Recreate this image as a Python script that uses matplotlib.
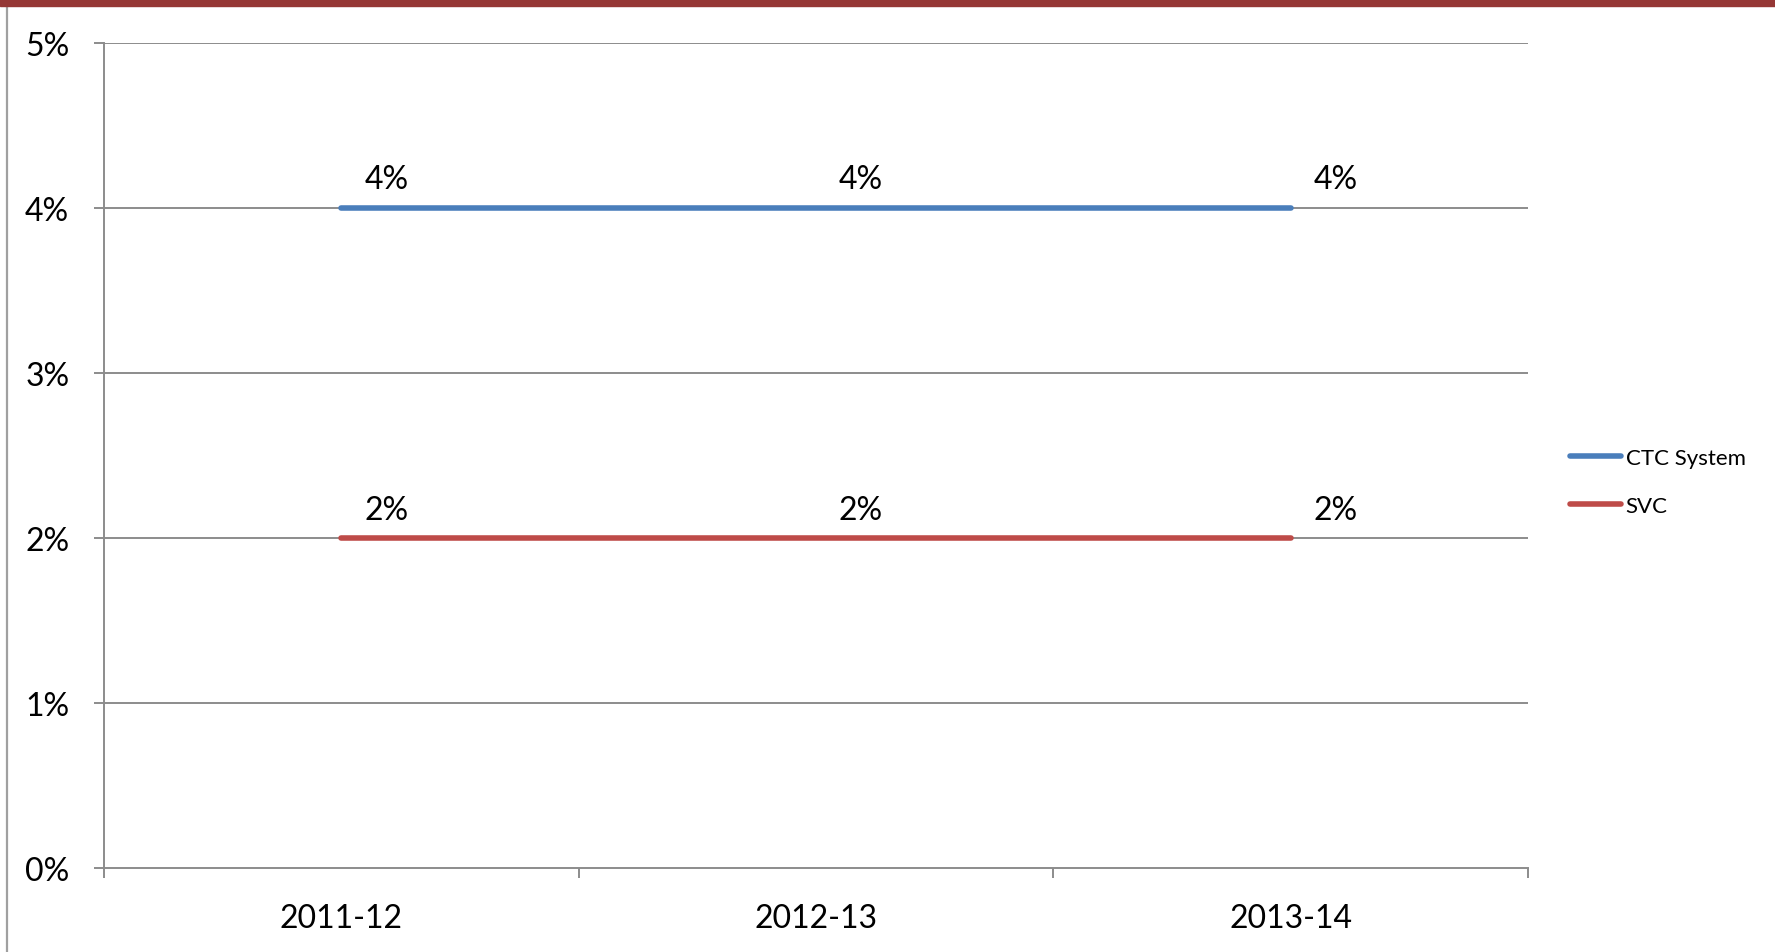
import matplotlib.pyplot as plt
from matplotlib.patches import Rectangle
from matplotlib.lines import Line2D

years = ['2011-12', '2012-13', '2013-14']
ctc_system = [4, 4, 4]
svc = [2, 2, 2]
y_ticks = [0, 1, 2, 3, 4, 5]

BLUE = '#4A7EBB'
RED = '#BE4B48'
GRID = '#8C8C8C'

plt.rcParams['font.family'] = ['Lato', 'DejaVu Sans']

fig = plt.figure(figsize=(17.75, 9.53), dpi=100)
ax = fig.add_axes([104 / 1775, 1 - 869 / 953, (1528 - 104) / 1775, (869 - 44) / 953])

x = list(range(len(years)))
ax.plot(x, ctc_system, color=BLUE, linewidth=4, solid_capstyle='round', label='CTC System', zorder=3)
ax.plot(x, svc, color=RED, linewidth=4, solid_capstyle='round', label='SVC', zorder=3)

for xi, v in zip(x, ctc_system):
    ax.annotate(f'{v}%', (xi, v), xytext=(45, 29), textcoords='offset pixels',
                ha='center', va='center', fontsize=23)
for xi, v in zip(x, svc):
    ax.annotate(f'{v}%', (xi, v), xytext=(45, 28), textcoords='offset pixels',
                ha='center', va='center', fontsize=23)

ax.set_xlim(-0.5, len(years) - 0.5)
ax.set_ylim(0, 5)
ax.set_yticks(y_ticks)
ax.set_yticklabels([f'{t}%' for t in y_ticks], fontsize=23)
ax.set_xticks([i - 0.5 for i in range(len(years) + 1)])
ax.set_xticklabels([])
ax.set_xticks(x, minor=True)
ax.set_xticklabels(years, minor=True, fontsize=23)
ax.tick_params(axis='x', which='minor', length=0, pad=25)
ax.tick_params(axis='x', which='major', direction='out', length=7, width=1.4, color=GRID)
ax.tick_params(axis='y', direction='out', length=7, width=1.4, color=GRID, pad=18)

for t in y_ticks[1:]:
    ax.axhline(t, color=GRID, linewidth=1.4, zorder=1)
for s in ['top', 'right']:
    ax.spines[s].set_visible(False)
for s in ['left', 'bottom']:
    ax.spines[s].set_color(GRID)
    ax.spines[s].set_linewidth(1.4)

handles = [Line2D([], [], color=BLUE, linewidth=4, solid_capstyle='round'),
           Line2D([], [], color=RED, linewidth=4, solid_capstyle='round')]
fig.legend(handles, ['CTC System', 'SVC'], loc='center left', bbox_to_anchor=(1550 / 1775, 1 - 483 / 953),
           frameon=False, fontsize=16, handlelength=2.3, handletextpad=0.2, labelspacing=1.25)

# top banner and left page border
fig.add_artist(Rectangle((0, 1 - 7 / 953), 1, 7 / 953, transform=fig.transFigure, color='#953735', zorder=5))
fig.add_artist(Line2D([7 / 1775, 7 / 1775], [0, 1 - 7 / 953], transform=fig.transFigure, color='#A0A0A0', linewidth=1.6))

fig.savefig('out.png', dpi=100)
